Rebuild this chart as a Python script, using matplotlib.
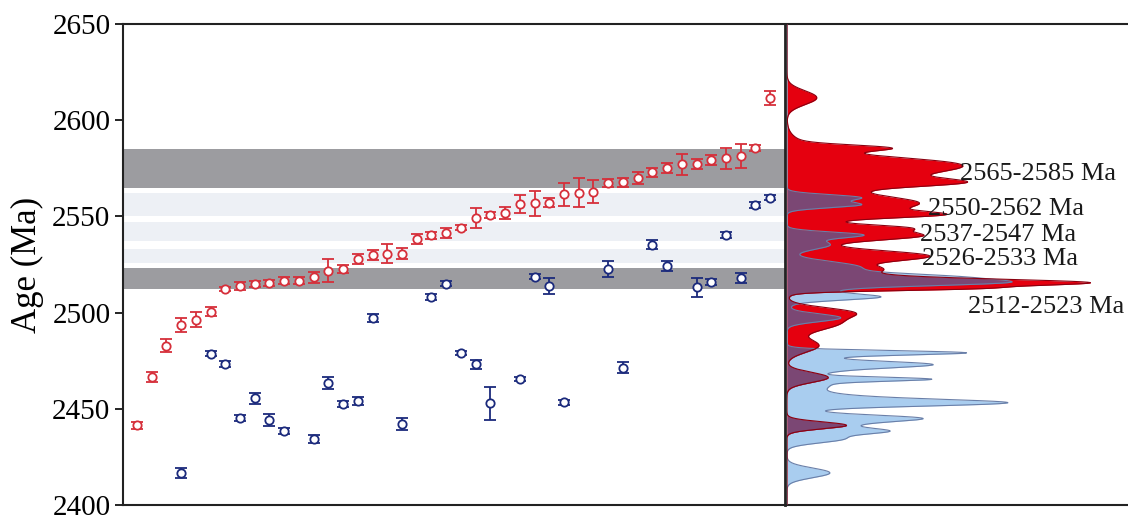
import numpy as np
import matplotlib.pyplot as plt

plt.rcParams['font.family'] = ['Liberation Serif', 'DejaVu Serif']

# Zircon 207Pb/206Pb ages (Ma) with error bars, group 1 (red, sorted) and group 2 (blue)
red_age = [2441.4, 2466.3, 2482.8, 2493.7, 2496.3, 2500.4, 2512.3, 2513.9, 2515.0, 2515.4,
           2516.6, 2516.6, 2518.4, 2521.8, 2522.7, 2528.0, 2529.8, 2530.6, 2530.6, 2538.4,
           2540.1, 2541.3, 2544.2, 2549.1, 2550.8, 2551.7, 2556.5, 2556.8, 2557.2, 2561.6,
           2562.4, 2562.9, 2567.5, 2567.7, 2570.1, 2572.9, 2575.3, 2577.0, 2577.2, 2579.2,
           2580.1, 2581.5, 2585.6, 2611.7]
red_err = [1.8, 2.6, 3.4, 3.7, 4.0, 2.4, 1.0, 2.0, 1.5, 1.5,
           2.0, 2.0, 2.8, 5.8, 2.0, 2.5, 2.5, 5.0, 2.8, 2.5,
           2.0, 2.5, 1.5, 5.3, 1.5, 3.0, 4.5, 6.5, 2.5, 6.0,
           7.6, 6.0, 2.0, 2.2, 3.2, 2.5, 2.5, 5.5, 2.5, 2.5,
           5.4, 6.3, 1.5, 3.6]
red_pos = list(range(len(red_age)))

blue_pos = [3, 5, 6, 7, 8, 9, 10, 12, 13, 14, 15, 16, 18, 20, 21, 22, 23, 24, 26, 27,
            28, 29, 32, 33, 35, 36, 38, 39, 40, 41, 42, 43]
blue_age = [2416.7, 2478.7, 2473.1, 2445.2, 2455.4, 2444.2, 2438.3, 2434.3, 2463.3, 2452.4,
            2454.2, 2497.3, 2442.1, 2508.0, 2515.1, 2479.2, 2473.1, 2452.8, 2465.4, 2518.7,
            2513.8, 2453.3, 2522.7, 2471.4, 2535.3, 2524.1, 2513.2, 2516.0, 2540.4, 2518.0,
            2556.0, 2559.8]
blue_err = [2.5, 1.5, 1.5, 1.5, 3.0, 3.0, 1.5, 2.0, 3.0, 1.5,
            2.0, 2.0, 3.0, 1.5, 1.5, 1.0, 2.5, 8.6, 1.0, 1.5,
            4.0, 1.5, 4.2, 3.0, 2.5, 2.5, 5.0, 1.5, 1.5, 2.5,
            1.5, 1.5]

# Age populations: (low, high, label, shade)
pop_low = [2565, 2550, 2537, 2526, 2512]
pop_high = [2585, 2562, 2547, 2533, 2523]
pop_shade = ['dark', 'light', 'light', 'light', 'dark']
pop_label = ['2565-2585 Ma', '2550-2562 Ma', '2537-2547 Ma', '2526-2533 Ma', '2512-2523 Ma']
label_x = [0.507, 0.413, 0.390, 0.396, 0.531]
label_y = [2568.7, 2550.6, 2537.2, 2524.7, 2499.9]

RED = '#d62f3a'
BLUE = '#1b2a7c'

fig = plt.figure(figsize=(11.28, 5.19), dpi=100)
ax = fig.add_axes([0.109, 0.027, 0.5868, 0.9268])
axd = fig.add_axes([0.6977, 0.027, 0.3023, 0.9268])

for lo, hi, sh in zip(pop_low, pop_high, pop_shade):
    ax.axhspan(lo, hi, color='#9c9ca0' if sh == 'dark' else '#edf0f5', lw=0, zorder=0)

common = dict(fmt='o', ms=6, mfc='white', mew=1.3, elinewidth=1.3, capsize=4.5,
              capthick=1.3, zorder=3)
ax.errorbar(red_pos, red_age, yerr=red_err, color=RED, mec=RED, **common)
ax.errorbar(blue_pos, blue_age, yerr=blue_err, color=BLUE, mec=BLUE, **common)

ax.set_xlim(-0.95, 44.0)
ax.set_ylim(2400, 2650)
ax.set_yticks(np.arange(2400, 2651, 50))
ax.set_xticks([])
ax.tick_params(axis='y', labelsize=21, length=6, width=1.2, direction='out', pad=3)
ax.set_ylabel('Age (Ma)', fontsize=25, labelpad=6)
for s in ax.spines.values():
    s.set_linewidth(1.5)
    s.set_color('#222222')
ax.spines['right'].set_linewidth(2.0)

# Probability density curves built from each age and its uncertainty
yy = np.linspace(2400, 2650, 5001)


def pdp(ages, errs):
    a = np.asarray(ages)[:, None]
    s = np.asarray(errs)[:, None]
    return (np.exp(-0.5 * ((yy - a) / s) ** 2) / (s * np.sqrt(2 * np.pi))).sum(axis=0)


pr = pdp(red_age, red_err)
pb = pdp(blue_age, blue_err)
scale = 0.89 / pr.max()
pr *= scale
pb *= scale

axd.fill_betweenx(yy, 0, pb, color='#a9cdef', lw=0, zorder=1)
axd.fill_betweenx(yy, 0, pr, color='#e5000f', lw=0, zorder=2)
axd.fill_betweenx(yy, 0, np.minimum(pr, pb), color='#7b4774', lw=0, zorder=3)
axd.plot(pb, yy, color='#6a7fa8', lw=0.8, zorder=4)
axd.plot(pr, yy, color='#8a0010', lw=0.8, zorder=4)

axd.set_xlim(0, 1)
axd.set_ylim(2400, 2650)
axd.set_xticks([])
axd.set_yticks([])
for k in ('left', 'right'):
    axd.spines[k].set_visible(False)
for k in ('top', 'bottom'):
    axd.spines[k].set_linewidth(1.5)
    axd.spines[k].set_color('#222222')

for txt, lx, ly in zip(pop_label, label_x, label_y):
    axd.text(lx, ly, txt, transform=axd.get_yaxis_transform(), fontsize=19,
             ha='left', va='baseline', color='#1a1a1a', zorder=5)

fig.savefig('out.png', dpi=100)
